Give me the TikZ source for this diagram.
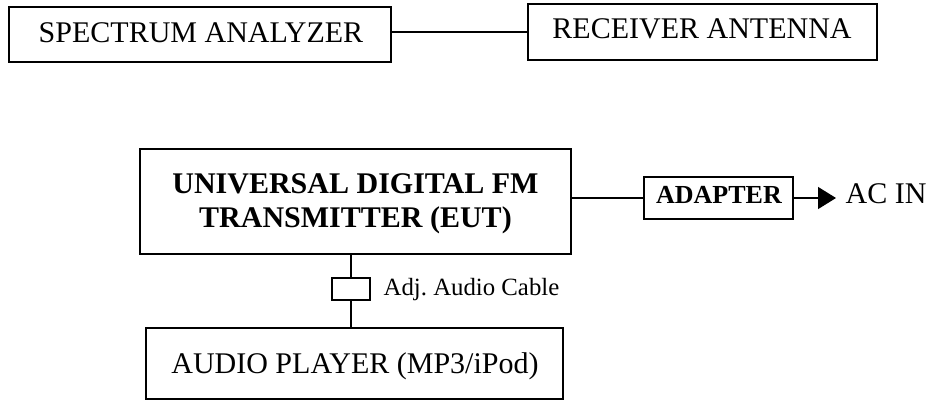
\documentclass[tikz,border=0pt]{standalone}
\usepackage{fontspec}
\setmainfont{Liberation Serif}
\usetikzlibrary{arrows.meta}
\begin{document}
\begin{tikzpicture}[x=1pt,y=-1pt,line width=1.3pt,
  box/.style={draw,rectangle,inner sep=0pt},
  big/.style={font=\fontsize{30}{34}\selectfont,inner sep=0pt,anchor=base},
  bigb/.style={font=\fontsize{30}{34}\selectfont\bfseries,inner sep=0pt,anchor=base},
  mid/.style={font=\fontsize{24.8}{28}\selectfont,inner sep=0pt,anchor=base west},
  conn/.style={draw,line width=1.3pt}]
\useasboundingbox (0,0) rectangle (931,400);
% top row
\node[box,minimum width=382pt,minimum height=55pt] (sa) at (200,34.5) {};
\node[big] (satext) at (201,42) {SPECTRUM ANALYZER};
\node[box,minimum width=349pt,minimum height=56pt] (ra) at (702.5,32) {};
\node[big] (ratext) at (702,38) {RECEIVER ANTENNA};
\draw[conn] (ra.west -| sa.east) -- (ra.west);
% EUT
\node[box,minimum width=431pt,minimum height=105pt] (eut) at (355.5,201.5) {};
\node[bigb] (eut1) at (355.5,193) {UNIVERSAL DIGITAL FM};
\node[bigb] (eut2) at (355.5,227) {TRANSMITTER (EUT)};
% adapter
\node[box,minimum width=149pt,minimum height=42pt] (ad) at (718.5,198) {};
\node[font=\fontsize{26}{30}\selectfont\bfseries,inner sep=0pt,anchor=base] (adtext) at (719,203) {ADAPTER};
\draw[conn] (ad.west -| eut.east) -- (ad.west);
\coordinate (acend) at (836,198);
\draw[conn,-{Triangle[length=18pt,width=22pt]}] (ad.east) -- (acend);
\node[big,anchor=base west] (acin) at (845,203) {AC IN};
% audio cable
\node[box,minimum width=38pt,minimum height=22pt] (cb) at (351,289) {};
\node[mid] (cbtext) at (383,295) {Adj.\ Audio Cable};
% audio player
\node[box,minimum width=417pt,minimum height=71pt] (ap) at (354.5,363.5) {};
\node[big] (aptext) at (355,373) {AUDIO PLAYER (MP3/iPod)};
\draw[conn] (cb.north) -- (cb.north |- eut.south);
\draw[conn] (cb.south) -- (cb.south |- ap.north);
\end{tikzpicture}
\end{document}
